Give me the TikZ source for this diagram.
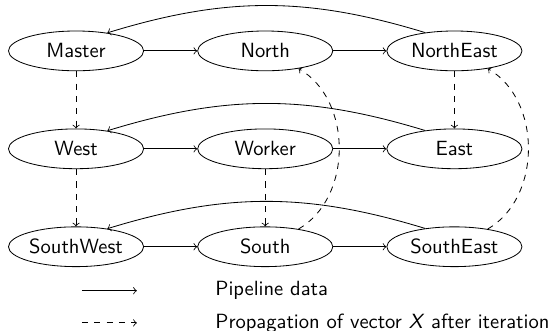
\documentclass[tikz,border=0pt]{standalone}
\usetikzlibrary{positioning,shapes.geometric}
\begin{document}
\begin{tikzpicture}[x=1cm,y=1cm,font=\sffamily,
  proc/.style={draw,ellipse,minimum width=2.31cm,minimum height=0.68cm,inner sep=0pt},
  node distance=0.98cm and 0.91cm]
\useasboundingbox (0,0) rectangle (9.556,-5.658);
\node[proc] (master) at (1.30,-0.87) {Master};
\node[proc,right=of master] (north) {North};
\node[proc,right=of north] (northeast) {NorthEast};
\node[proc,below=of master] (west) {West};
\node[proc,right=of west] (worker) {Worker};
\node[proc,right=of worker] (east) {East};
\node[proc,below=of west] (southwest) {SouthWest};
\node[proc,right=of southwest] (south) {South};
\node[proc,right=of south] (southeast) {SouthEast};
% pipeline
\draw[->] (master) -- (north); \draw[->] (north) -- (northeast);
\draw[->] (west) -- (worker); \draw[->] (worker) -- (east);
\draw[->] (southwest) -- (south); \draw[->] (south) -- (southeast);
\draw[->] (northeast.148) to[bend right=17] (master.30);
\draw[->] (east.148) to[bend right=17] (west.30);
\draw[->] (southeast.148) to[bend right=17] (southwest.30);
% propagation of X
\draw[->,dashed] (master) -- (west); \draw[->,dashed] (west) -- (southwest);
\draw[->,dashed] (northeast) -- (east); \draw[->,dashed] (worker) -- (south);
\draw[->,dashed] (south.28) to[out=30,in=-30] (north.-28);
\draw[->,dashed] (southeast.28) to[out=30,in=-30] (northeast.-28);
% legend
\coordinate (sa) at (1.40,-4.97); \coordinate (sb) at (2.34,-4.97);
\coordinate (da) at (1.40,-5.52); \coordinate (db) at (2.34,-5.52);
\draw[->] (sa) -- (sb); \draw[->,dashed] (da) -- (db);
\node[anchor=west,inner sep=0pt] (pipe) at (3.675,-4.97) {Pipeline data};
\node[anchor=west,inner sep=0pt] (prop) at (3.675,-5.52) {Propagation of vector \textit{X} after iteration};
\end{tikzpicture}
\end{document}
